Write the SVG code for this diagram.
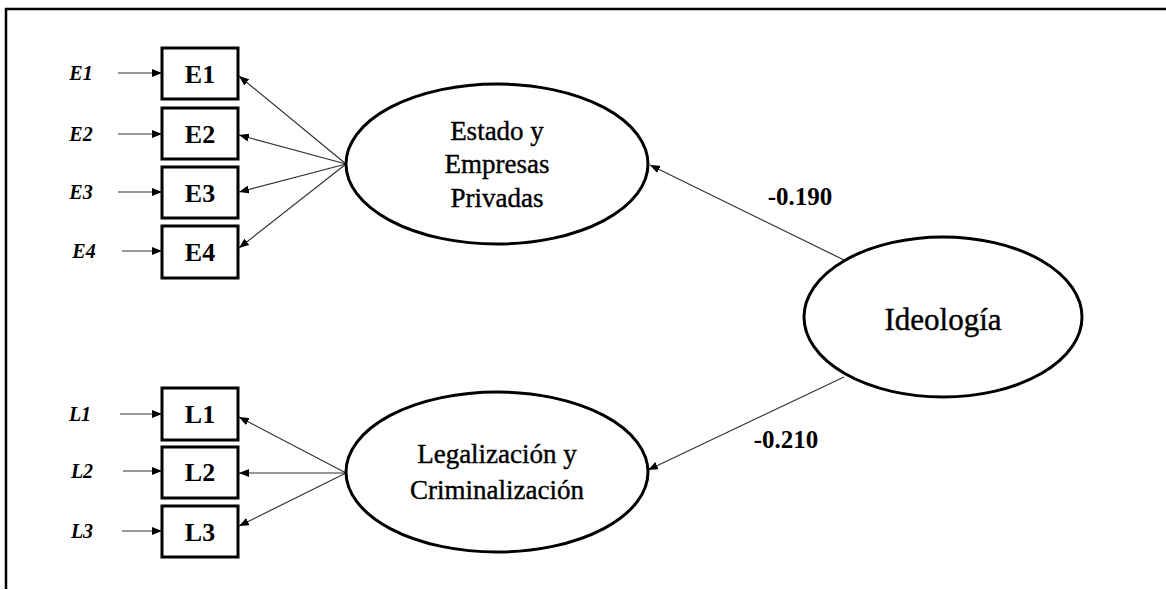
<svg xmlns="http://www.w3.org/2000/svg" width="1166" height="590" viewBox="0 0 1166 590">
<style>
.box{fill:#fff;stroke:#000;stroke-width:3}
.ell{fill:#fff;stroke:#000;stroke-width:3}
.ln{stroke:#333;stroke-width:1.2;fill:none}
.bl{font-family:"Liberation Serif",serif;font-weight:bold;font-size:26px;text-anchor:middle}
.el{font-family:"Liberation Serif",serif;font-weight:bold;font-style:italic;font-size:20px;text-anchor:middle}
.lat{font-family:"Liberation Serif",serif;font-size:27px;text-anchor:middle;stroke:#000;stroke-width:0.4}
.num{font-family:"Liberation Serif",serif;font-weight:bold;font-size:25px;text-anchor:middle}
</style>
<defs>
<marker id="ah" markerUnits="userSpaceOnUse" markerWidth="10" markerHeight="8" refX="10" refY="4" orient="auto">
<path d="M0,0 L10,4 L0,8 Z" fill="#000"/>
</marker>
</defs>
<rect width="1166" height="590" fill="#fff"/>
<path d="M6,589 L6,9 L1166,9" fill="none" stroke="#000" stroke-width="2.5"/>
<g id="connectors">
<line class="ln" x1="118" y1="73" x2="162" y2="73" marker-end="url(#ah)"/>
<line class="ln" x1="118" y1="134" x2="162" y2="134" marker-end="url(#ah)"/>
<line class="ln" x1="118" y1="192" x2="162" y2="192" marker-end="url(#ah)"/>
<line class="ln" x1="122" y1="251" x2="162" y2="251" marker-end="url(#ah)"/>
<line class="ln" x1="120" y1="414" x2="162" y2="414" marker-end="url(#ah)"/>
<line class="ln" x1="123" y1="471" x2="162" y2="471" marker-end="url(#ah)"/>
<line class="ln" x1="122" y1="531" x2="162" y2="531" marker-end="url(#ah)"/>
<line class="ln" x1="346" y1="164" x2="239" y2="76" marker-end="url(#ah)"/>
<line class="ln" x1="346" y1="164" x2="239" y2="135" marker-end="url(#ah)"/>
<line class="ln" x1="346" y1="164" x2="239" y2="192" marker-end="url(#ah)"/>
<line class="ln" x1="346" y1="164" x2="239" y2="248" marker-end="url(#ah)"/>
<line class="ln" x1="346" y1="473" x2="239" y2="417" marker-end="url(#ah)"/>
<line class="ln" x1="346" y1="473" x2="239" y2="473" marker-end="url(#ah)"/>
<line class="ln" x1="346" y1="473" x2="239" y2="526" marker-end="url(#ah)"/>
<line class="ln" x1="844" y1="260" x2="650" y2="165" marker-end="url(#ah)"/>
<line class="ln" x1="844" y1="377" x2="648" y2="470" marker-end="url(#ah)"/>
</g>
<g id="e1"><text class="el" x="81" y="80">E1</text></g>
<g id="e2"><text class="el" x="81" y="141">E2</text></g>
<g id="e3"><text class="el" x="81" y="199">E3</text></g>
<g id="e4"><text class="el" x="84" y="258">E4</text></g>
<g id="l1"><text class="el" x="80" y="421">L1</text></g>
<g id="l2"><text class="el" x="82" y="478">L2</text></g>
<g id="l3"><text class="el" x="82" y="538">L3</text></g>
<g id="E1"><rect class="box" x="162" y="48" width="76" height="51"/><text class="bl" x="200" y="83">E1</text></g>
<g id="E2"><rect class="box" x="162" y="108" width="76" height="51"/><text class="bl" x="200" y="143">E2</text></g>
<g id="E3"><rect class="box" x="162" y="167" width="76" height="51"/><text class="bl" x="200" y="202">E3</text></g>
<g id="E4"><rect class="box" x="162" y="226" width="76" height="52"/><text class="bl" x="200" y="261">E4</text></g>
<g id="L1"><rect class="box" x="162" y="388" width="76" height="52"/><text class="bl" x="200" y="423">L1</text></g>
<g id="L2"><rect class="box" x="162" y="447" width="76" height="51"/><text class="bl" x="200" y="481">L2</text></g>
<g id="L3"><rect class="box" x="162" y="506" width="76" height="51"/><text class="bl" x="200" y="541">L3</text></g>
<g id="estado"><ellipse class="ell" cx="497" cy="164" rx="151" ry="80"/>
<text class="lat" x="497" y="140">Estado y</text>
<text class="lat" x="497" y="173">Empresas</text>
<text class="lat" x="497" y="207">Privadas</text></g>
<g id="legal"><ellipse class="ell" cx="497" cy="472" rx="151" ry="80"/>
<text class="lat" x="497" y="463">Legalización y</text>
<text class="lat" x="497" y="499">Criminalización</text></g>
<g id="ideologia"><ellipse class="ell" cx="943" cy="317" rx="139" ry="80"/>
<text class="lat" x="943" y="330" style="font-size:31px">Ideología</text></g>
<text class="num" x="800" y="205">-0.190</text>
<text class="num" x="786" y="448">-0.210</text>
</svg>
